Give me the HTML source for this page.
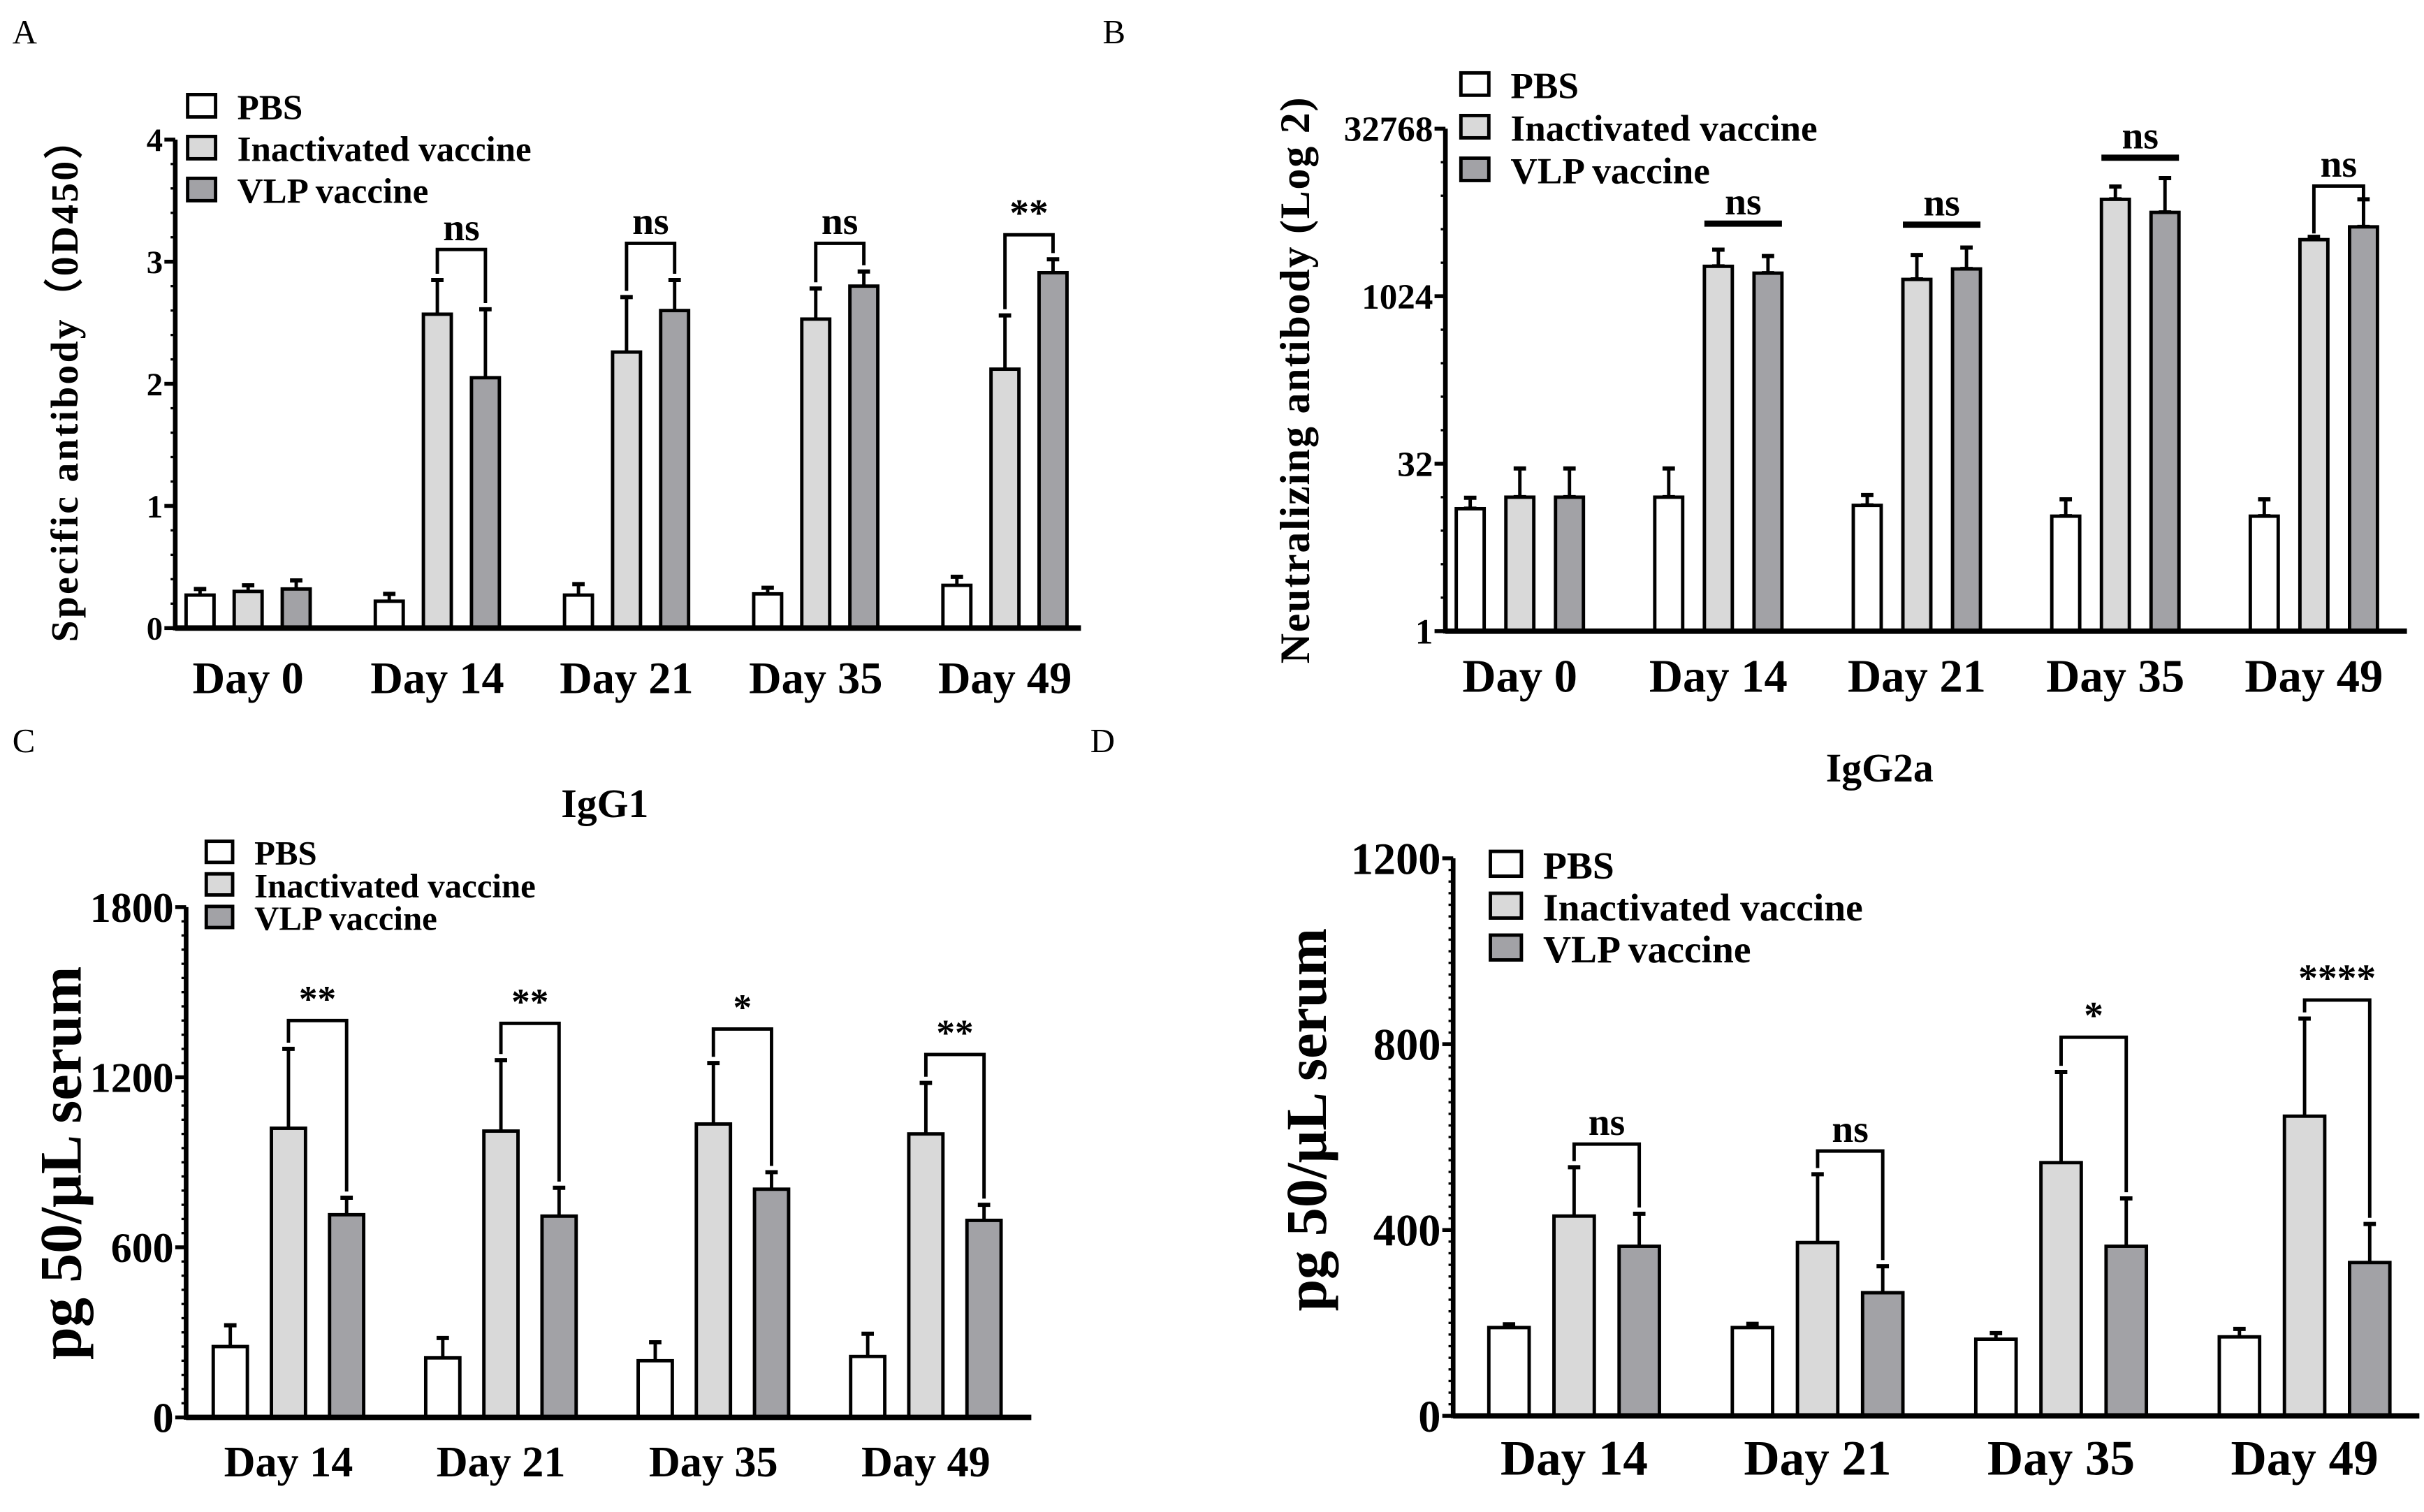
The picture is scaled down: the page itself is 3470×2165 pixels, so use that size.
<!DOCTYPE html>
<html><head><meta charset="utf-8">
<style>
html,body{margin:0;padding:0;background:#fff;}
svg{display:block;}
text{font-family:"Liberation Serif",serif;fill:#000;}
</style></head>
<body>
<svg id="fig" width="3470" height="2165" viewBox="0 0 1563 975" preserveAspectRatio="none" xmlns="http://www.w3.org/2000/svg">
<rect width="1563" height="975" fill="#fff"/>
<text x="8" y="28" font-size="22">A</text>
<text x="711" y="28" font-size="22">B</text>
<text x="8" y="485" font-size="22">C</text>
<text x="703" y="485" font-size="22">D</text>
<text x="390" y="527" font-size="26" font-weight="bold" text-anchor="middle">IgG1</text>
<text x="1212" y="504" font-size="26" font-weight="bold" text-anchor="middle">IgG2a</text>
</svg>
<script>
// ---------- Panel A data ----------
const aDays = ["Day 0","Day 14","Day 21","Day 35","Day 49"];
const aPBS = [0.27,0.22,0.27,0.28,0.35];
const aPBSErr = [0.05,0.06,0.09,0.05,0.07];
const aInact = [0.30,2.57,2.26,2.53,2.12];
const aInactErr = [0.05,0.28,0.45,0.25,0.44];
const aVLP = [0.32,2.05,2.60,2.80,2.91];
const aVLPErr = [0.07,0.56,0.25,0.12,0.11];
const aTicks = [0,1,2,3,4];
const aSig = ["","ns","ns","ns","**"];
const aSigTop = [0,3.10,3.15,3.15,3.22];
// ---------- Panel B data (titers, log2 axis) ----------
const bDays = ["Day 0","Day 14","Day 21","Day 35","Day 49"];
const bPBS = [12.6,16,13.5,10.8,10.8];
const bPBSErr = [3.2,13,3.2,4.5,4.5];
const bInact = [16,1900,1450,7600,3300];
const bInactErr = [13,780,950,2300,200];
const bVLP = [16,1650,1800,5800,4300];
const bVLPErr = [13,700,1000,6000,3300];
const bTicks = [1,32,1024,32768];
const bSig = ["","ns","ns","ns","ns"];
const bSigTop = [0,4600,4500,18000,10000];
const bSigFlat = [false,true,true,true,false];
// ---------- Panel C data ----------
const cDays = ["Day 14","Day 21","Day 35","Day 49"];
const cPBS = [250,210,200,215];
const cPBSErr = [75,70,65,80];
const cInact = [1020,1010,1035,1000];
const cInactErr = [280,250,215,180];
const cVLP = [715,710,805,695];
const cVLPErr = [60,100,60,55];
const cTicks = [0,600,1200,1800];
const cSig = ["**","**","*","**"];
const cSigTop = [1400,1390,1370,1280];
// ---------- Panel D data ----------
const dDays = ["Day 14","Day 21","Day 35","Day 49"];
const dPBS = [190,190,165,170];
const dPBSErr = [7,8,13,17];
const dInact = [430,373,545,645];
const dInactErr = [105,147,195,210];
const dVLP = [365,265,365,330];
const dVLPErr = [70,57,103,83];
const dTicks = [0,400,800,1200];
const dSig = ["ns","ns","*","****"];
const dSigTop = [585,570,815,895];

const NS = "http://www.w3.org/2000/svg";
const svg = document.getElementById('fig');
const FILLS = ["#ffffff","#d9d9d9","#a2a2a6"];
const NAMES = ["PBS","Inactivated vaccine","VLP vaccine"];
function mk(tag, attrs, parent){
  const e = document.createElementNS(NS, tag);
  for (const k in attrs) e.setAttribute(k, attrs[k]);
  (parent||svg).appendChild(e);
  return e;
}

function panel(cfg){
  const g = mk('g', {});
  
  
  const y = cfg.y;
  const xc = i => cfg.x0 + i*cfg.gap;
  const series = [[cfg.pbs,cfg.pbsE],[cfg.inact,cfg.inactE],[cfg.vlp,cfg.vlpE]];
  const topOf = [];
  for (let i=0;i<cfg.days.length;i++){
    topOf.push([]);
    for (let s=0;s<3;s++){
      const v = series[s][0][i], e = series[s][1][i];
      const cx = xc(i) + (s-1)*cfg.step;
      const yt = y(v), yb = y(cfg.base), ye = y(v+e);
      topOf[i].push(ye);
      const eb = mk('line',{x1:cx,x2:cx,y1:yt,y2:ye,stroke:'#000','stroke-width':cfg.sw},g);
      
      
      const cap = mk('line',{x1:cx-4,x2:cx+4,y1:ye,y2:ye,stroke:'#000','stroke-width':cfg.sw+0.5},g);
      
      
      const r = mk('rect',{x:cx-cfg.bw/2,y:yt,width:cfg.bw,height:yb-yt,fill:FILLS[s],stroke:'#000','stroke-width':cfg.sw},g);
      
      
    }
    const t = mk('text',{x:xc(i),y:cfg.xlabY,'font-size':cfg.xfs,'font-weight':'bold','text-anchor':'middle'},g);
    t.textContent = cfg.days[i];
    
    
    if (cfg.sig[i]){
      const ty = y(cfg.sigTop[i]);
      const x1 = xc(i), x2 = xc(i)+cfg.step;
      const flat = cfg.flat && cfg.flat[i];
      let d;
      if (flat) d = `M${x1-cfg.bw/2} ${ty} H${x2+cfg.bw/2}`;
      else d = `M${x1} ${topOf[i][1]-4} V${ty} H${x2} V${topOf[i][2]-4}`;
      const p = mk('path',{d:d,fill:'none',stroke:'#000','stroke-width':flat?4:2.2},g);
      
      
      const st = mk('text',{x:(x1+x2)/2,y:ty-6,'font-size':cfg.sfs,'font-weight':'bold','text-anchor':'middle'},g);
      st.textContent = cfg.sig[i];
      
      
    }
  }
  const ax = mk('line',{x1:cfg.ax,x2:cfg.ax,y1:y(cfg.ticks[cfg.ticks.length-1]),y2:y(cfg.base)+1.5,stroke:'#000','stroke-width':3},g);
  
  
  const xa = mk('line',{x1:cfg.ax,x2:cfg.xEnd,y1:y(cfg.base),y2:y(cfg.base),stroke:'#000','stroke-width':3.5},g);
  
  
  const yTop = y(cfg.ticks[cfg.ticks.length-1]), yBot = y(cfg.base);
  for (let k=0;k<=cfg.minor;k++){
    const yy = yTop + (yBot-yTop)*k/cfg.minor;
    const m = mk('line',{x1:cfg.ax-3,x2:cfg.ax,y1:yy,y2:yy,stroke:'#000','stroke-width':1.5},g);
    
    
  }
  cfg.ticks.forEach(tv=>{
    const ty = y(tv);
    const tk = mk('line',{x1:cfg.ax-7,x2:cfg.ax,y1:ty,y2:ty,stroke:'#000','stroke-width':2.5},g);
    
    
    const tl = mk('text',{x:cfg.ax-8,y:ty+cfg.yfs*0.35,'font-size':cfg.yfs,'font-weight':'bold','text-anchor':'end'},g);
    tl.textContent = tv;
    
    
  });
  const yt = mk('text',{x:0,y:0,'font-size':cfg.tfs,'font-weight':'bold','text-anchor':'middle',transform:`translate(${cfg.titleX},${cfg.titleY}) rotate(-90)`,'letter-spacing':cfg.ls||0},g);
  yt.textContent = cfg.title;
  
  
  for (let s=0;s<3;s++){
    const ly = cfg.legY + s*cfg.legStep;
    const lr = mk('rect',{x:cfg.legX,y:ly-cfg.legSq/2,width:cfg.legSq,height:cfg.legSq*0.8,fill:FILLS[s],stroke:'#000','stroke-width':2.2},g);
    
    
    const lt = mk('text',{x:cfg.legX+cfg.legSq+14,y:ly+cfg.lfs*0.3,'font-size':cfg.lfs,'font-weight':'bold'},g);
    lt.textContent = NAMES[s];
    
    
  }
}

panel({name:'panel-a-specific-antibody',days:aDays,pbs:aPBS,pbsE:aPBSErr,inact:aInact,inactE:aInactErr,vlp:aVLP,vlpE:aVLPErr,
  ticks:aTicks,base:0,y:v=>405-v*78.75,x0:160,gap:122,step:31,bw:18,sw:2.2,ax:113,xEnd:697,minor:20,
  sig:aSig,sigTop:aSigTop,xlabY:447,xfs:29,sfs:25,yfs:21,tfs:25,ls:1.5,title:'Specific antibody（0D450）',titleX:50,titleY:245,
  legX:121,legY:70,legStep:27,legSq:18,lfs:23});
panel({name:'panel-b-neutralizing-antibody',days:bDays,pbs:bPBS,pbsE:bPBSErr.map(()=>0),inact:bInact,inactE:bInactErr.map(()=>0),vlp:bVLP,vlpE:bVLPErr.map(()=>0),
  ticks:bTicks,base:1,y:v=>407-Math.log2(v)*21.6,x0:980,gap:128,step:32,bw:18,sw:2.2,ax:932,xEnd:1552,minor:15,
  sig:bSig,sigTop:bSigTop,flat:bSigFlat,xlabY:446,xfs:30,sfs:25,yfs:23,tfs:27,ls:0.8,title:'Neutralizing antibody (Log 2)',titleX:844,titleY:245,
  legX:942,legY:56,legStep:27.5,legSq:18,lfs:24});
panel({name:'panel-c-igg1',days:cDays,pbs:cPBS,pbsE:cPBSErr,inact:cInact,inactE:cInactErr,vlp:cVLP,vlpE:cVLPErr,
  ticks:cTicks,base:0,y:v=>914-v*0.1828,x0:186,gap:137,step:37.5,bw:22,sw:2.2,ax:120,xEnd:665,minor:36,
  sig:cSig,sigTop:cSigTop,xlabY:952,xfs:28,sfs:24,yfs:27,tfs:38,title:'pg 50/μL serum',titleX:52,titleY:750,
  legX:133,legY:551,legStep:21,legSq:17,lfs:22});
panel({name:'panel-d-igg2a',days:dDays,pbs:dPBS,pbsE:dPBSErr,inact:dInact,inactE:dInactErr,vlp:dVLP,vlpE:dVLPErr,
  ticks:dTicks,base:0,y:v=>913-v*0.2996,x0:1015,gap:157,step:42,bw:26,sw:2.2,ax:937,xEnd:1560,minor:48,
  sig:dSig,sigTop:dSigTop,xlabY:951,xfs:32,sfs:25,yfs:29,tfs:37,title:'pg 50/μL serum',titleX:855,titleY:722,
  legX:961,legY:559,legStep:27,legSq:20,lfs:25});

(function(){
  const y = v=>407-Math.log2(v)*21.6;
  const sets=[[bPBS,bPBSErr,-1],[bInact,bInactErr,0],[bVLP,bVLPErr,1]];
  sets.forEach(([m,e,o])=>{
    for(let i=0;i<m.length;i++){
      const cx=980+i*128+o*32;
      const l=mk('line',{x1:cx,x2:cx,y1:y(m[i]),y2:y(m[i]+e[i]),stroke:'#000','stroke-width':2.2});
      
      
      const c=mk('line',{x1:cx-4,x2:cx+4,y1:y(m[i]+e[i]),y2:y(m[i]+e[i]),stroke:'#000','stroke-width':2.7});
      
      
    }
  });
})();
</script>
</body></html>
